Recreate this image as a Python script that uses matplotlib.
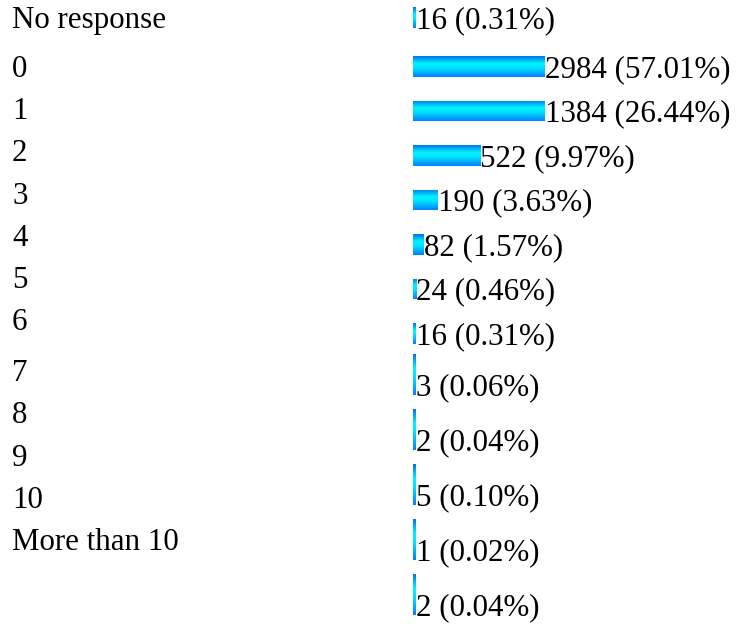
import numpy as np
import matplotlib
matplotlib.use("Agg")
import matplotlib.pyplot as plt
from matplotlib.colors import LinearSegmentedColormap

# Answers and their counts / shares
categories = ["No response", "0", "1", "2", "3", "4", "5", "6",
              "7", "8", "9", "10", "More than 10"]
counts = [16, 2984, 1384, 522, 190, 82, 24, 16, 3, 2, 5, 1, 2]
percents = [0.31, 57.01, 26.44, 9.97, 3.63, 1.57, 0.46, 0.31,
            0.06, 0.04, 0.10, 0.02, 0.04]

W, H = 738, 624
FONT = "Liberation Serif"
FS = 22.3
BAR_X0, BAR_W = 413, 132      # bar column, pixels
XMAX = 1023                   # count that fills the bar column
MINW = 23                     # smallest drawn bar, in counts

fig = plt.figure(figsize=(W / 100, H / 100), dpi=100)

# text layer in pixel units
tax = fig.add_axes([0, 0, 1, 1])
tax.set_xlim(0, W)
tax.set_ylim(H, 0)
tax.axis("off")

# bar layer: x in counts, y in pixels
bax = fig.add_axes([BAR_X0 / W, 0, BAR_W / W, 1])
bax.axis("off")

grad = LinearSegmentedColormap.from_list(
    "bar", [(0.0, "#0074ee"), (0.35, "#00f2ff"), (0.55, "#00e6ff"), (1.0, "#0080ff")])
gimg = np.linspace(0, 1, 64).reshape(-1, 1)

# baselines: the two columns step down at their own pace,
# tiny counts get a tall thin bar image
lbase = rbase = 28
prev_tall = False
for i, (cat, c, p) in enumerate(zip(categories, counts, percents)):
    tall = c < 10
    if i == 1:
        lbase += 49
        rbase += 49
    elif i > 1:
        if tall and not prev_tall:
            lbase += 51
            rbase += 51
        else:
            lbase += 42.2
            rbase += 55 if tall else 44.5
    prev_tall = tall

    h = 41 if tall else 21
    w = min(max(c, MINW), XMAX)

    bars = bax.barh(rbase - h / 2, max(c, MINW), height=h,
                    facecolor="none", edgecolor="none")
    im = bax.imshow(gimg, cmap=grad, aspect="auto", origin="upper",
                    extent=(0, w, rbase, rbase - h), interpolation="bilinear")
    im.set_clip_path(bars[0])

    bax.text(w, rbase, f"{c} ({p:.2f}%)", family=FONT, fontsize=FS,
             ha="left", va="baseline", clip_on=False)
    tax.text(12, lbase, cat, family=FONT, fontsize=FS,
             ha="left", va="baseline")

bax.set_xlim(0, XMAX)
bax.set_ylim(H, 0)

fig.savefig("out.png", dpi=100)
